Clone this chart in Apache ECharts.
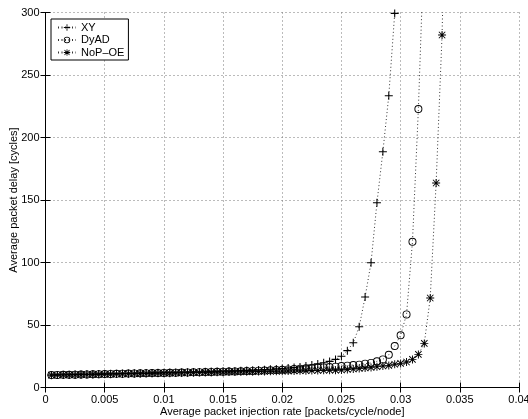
<!DOCTYPE html>
<html><head><meta charset="utf-8">
<script src="https://cdn.jsdelivr.net/npm/echarts@6/dist/echarts.min.js"></script>
<style>html,body{margin:0;padding:0;background:#fff}#c{width:528px;height:419px}</style>
</head><body><div id="c"></div>
<script>
const xValues = [0.0005,0.001,0.0015,0.002,0.0025,0.003,0.0035,0.004,0.0045,0.005,
0.0055,0.006,0.0065,0.007,0.0075,0.008,0.0085,0.009,0.0095,0.01,
0.0105,0.011,0.0115,0.012,0.0125,0.013,0.0135,0.014,0.0145,0.015,
0.0155,0.016,0.0165,0.017,0.0175,0.018,0.0185,0.019,0.0195,0.02,
0.0205,0.021,0.0215,0.022,0.0225,0.023,0.0235,0.024,0.0245,0.025,
0.0255,0.026,0.0265,0.027,0.0275,0.028,0.0285,0.029,0.0295,0.03,
0.0305,0.031,0.0315,0.032,0.0325,0.033,0.0335,0.034];
const xyDelay = [10.0,10.1,10.2,10.3,10.4,10.5,10.6,10.7,10.8,10.9,
11.0,11.1,11.2,11.3,11.4,11.5,11.6,11.7,11.8,11.9,
12.0,12.1,12.2,12.3,12.4,12.5,12.6,12.8,12.9,13.0,
13.2,13.3,13.5,13.7,13.9,14.1,14.3,14.6,14.9,15.2,
15.6,16.0,16.5,17.2,18.0,18.9,19.8,20.9,22.5,25.0,
29.5,35.8,48.6,72.4,99.8,147.8,188.6,233.4,299.3,420];
const dyadDelay = [10.0,10.1,10.2,10.2,10.3,10.4,10.5,10.6,10.7,10.8,
10.9,11.0,11.1,11.2,11.3,11.4,11.5,11.6,11.6,11.7,
11.8,11.9,12.0,12.1,12.2,12.3,12.4,12.5,12.6,12.7,
12.8,12.9,13.0,13.2,13.3,13.5,13.6,13.8,14.0,14.2,
14.5,14.8,15.1,15.4,15.7,16.0,16.1,16.4,16.7,17.2,
17.5,18.0,18.3,19.1,19.7,21.0,22.5,26.2,33.2,41.8,
58.5,116.6,222.8,360];
const nopDelay = [9.9,10.0,10.1,10.1,10.2,10.3,10.4,10.5,10.6,10.6,
10.7,10.8,10.9,11.0,11.0,11.1,11.2,11.3,11.4,11.5,
11.5,11.6,11.7,11.8,11.9,12.0,12.1,12.1,12.2,12.3,
12.4,12.5,12.6,12.6,12.7,12.8,12.9,13.0,13.0,13.1,
13.2,13.3,13.4,13.5,13.6,13.7,13.8,13.9,13.9,14.0,
14.5,14.8,15.3,15.6,16.1,16.7,17.2,17.7,18.6,19.3,
20.4,22.5,26.5,35.3,71.6,163.6,282.0,480];
const seriesNames = ['XY','DyAD','NoP\u2013OE'];
const xTicks = {min:0, max:0.04, interval:0.005};
const yTicks = {min:0, max:300, interval:50};

const FONT = 'Liberation Sans';
const plusPath = 'path://M0,4.35H10V5.65H0Z M4.35,0H5.65V10H4.35Z';
const starPath = 'path://M0,4.4H10V5.6H0Z M4.4,0H5.6V10H4.4Z M1.4,0.6L9.4,8.6L8.6,9.4L0.6,1.4Z M8.6,0.6L9.4,1.4L1.4,9.4L0.6,8.6Z';
const ringPath = 'path://M5,0A5,5 0 1,1 5,10A5,5 0 1,1 5,0Z M5,1.15A3.85,3.85 0 1,0 5,8.85A3.85,3.85 0 1,0 5,1.15Z';
function pairs(ys){ return ys.map((y,i)=>[xValues[i], y]); }
const lineStyle = {color:'#333', width:1, type:[1,2.5]};
function mk(name, ys, symbol, size){
  return {
    name, type:'line', data:pairs(ys), symbol, symbolSize:size,
    showAllSymbol:true, clip:true, animation:false,
    lineStyle, itemStyle:{color:'#000', borderWidth:0}
  };
}
const chart = echarts.init(document.getElementById('c'), null, {renderer:'canvas'});
const axisCommon = {
  axisLine:{show:true, lineStyle:{color:'#000', width:1}},
  axisTick:{show:true, inside:true, length:5, lineStyle:{color:'#000'}},
};
chart.setOption({
  animation:false,
  backgroundColor:'#fff',
  textStyle:{fontFamily:FONT},
  grid:{left:45.5, right:9, top:12.5, bottom:31.5, containLabel:false, outerBoundsMode:'none'},
  legend:{
    orient:'vertical', left:51, top:19,
    padding:[3,4,2,6], itemGap:1.5, itemWidth:18, itemHeight:8,
    borderColor:'#000', borderWidth:1, backgroundColor:'#fff',
    textStyle:{fontFamily:FONT, fontSize:11, color:'#000'},
    data:seriesNames
  },
  xAxis:[
    Object.assign({type:'value', min:xTicks.min, max:xTicks.max, interval:xTicks.interval,
      name:'Average packet injection rate [packets/cycle/node]', nameLocation:'middle', nameGap:19,
      nameMoveOverlap:false,
      nameTextStyle:{fontFamily:FONT, fontSize:11, color:'#000'},
      axisLabel:{fontFamily:FONT, fontSize:11, color:'#000', margin:7},
      splitLine:{show:true, lineStyle:{color:'#777', width:1, type:[1,3]}}}, axisCommon),
    Object.assign({type:'value', position:'top', min:xTicks.min, max:xTicks.max, interval:xTicks.interval,
      axisLabel:{show:false}, splitLine:{show:false}}, axisCommon)
  ],
  yAxis:[
    Object.assign({type:'value', min:yTicks.min, max:yTicks.max, interval:yTicks.interval,
      name:'Average packet delay [cycles]', nameLocation:'middle', nameGap:26, nameRotate:90,
      nameMoveOverlap:false,
      nameTextStyle:{fontFamily:FONT, fontSize:11, color:'#000'},
      axisLabel:{fontFamily:FONT, fontSize:11, color:'#000', margin:6},
      splitLine:{show:true, lineStyle:{color:'#777', width:1, type:[1,3]}}}, axisCommon),
    Object.assign({type:'value', position:'right', min:yTicks.min, max:yTicks.max, interval:yTicks.interval,
      axisLabel:{show:false}, splitLine:{show:false}}, axisCommon)
  ],
  series:[
    mk(seriesNames[0], xyDelay, plusPath, 8),
    mk(seriesNames[1], dyadDelay, ringPath, 8),
    mk(seriesNames[2], nopDelay, starPath, 8)
  ]
});
</script></body></html>
